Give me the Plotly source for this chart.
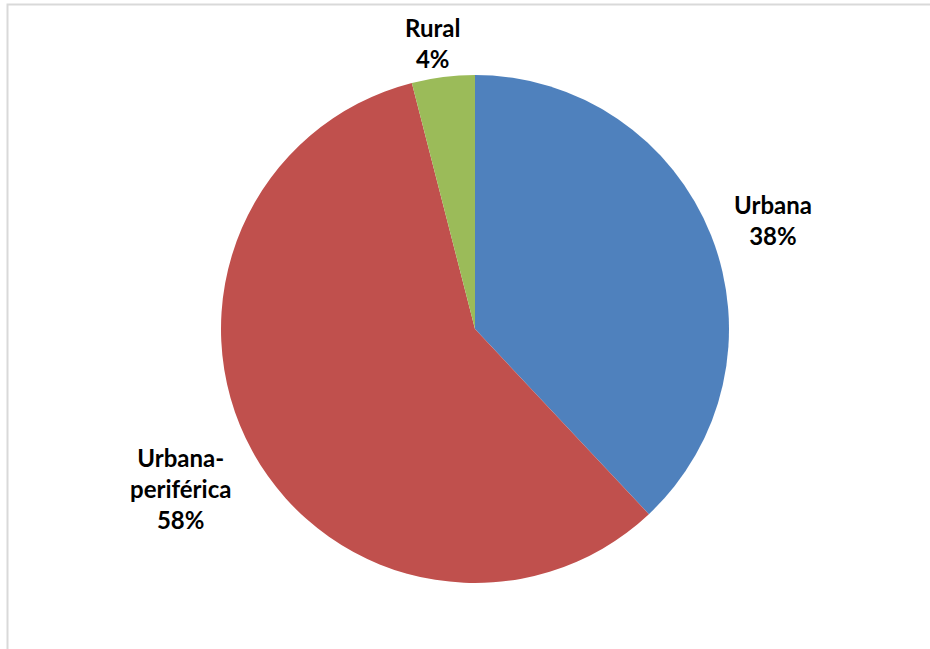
import plotly.graph_objects as go

categories = ["Urbana", "Urbana-periférica", "Rural"]
values = [38, 58, 4]
colors = ["#4F81BD", "#C0504D", "#9BBB59"]
label_text = ["<b>Urbana<br>38%</b>", "<b>Urbana-<br>periférica<br>58%</b>", "<b>Rural<br>4%</b>"]
label_pos = [(773, 220), (180, 488), (432, 43)]

W, H = 930, 649
fig = go.Figure(go.Pie(
    labels=categories, values=values, sort=False, direction="clockwise", rotation=0,
    marker=dict(colors=colors, line=dict(width=0)),
    textinfo="none", hoverinfo="label+percent", showlegend=False,
    domain=dict(x=[221 / W, 729 / W], y=[1 - 583 / H, 1 - 75 / H]),
))

for t, (x, y) in zip(label_text, label_pos):
    fig.add_annotation(x=x / W, y=1 - y / H, xref="paper", yref="paper", text=t,
                       showarrow=False, xanchor="center", yanchor="middle",
                       font=dict(family="Lato", size=24, color="#000000"))

fig.add_shape(type="rect", xref="paper", yref="paper",
              x0=7.5 / W, x1=1.05, y0=-0.05, y1=1 - 4.5 / H,
              line=dict(color="#D9D9D9", width=2), fillcolor="rgba(0,0,0,0)")

fig.update_layout(width=W, height=H, margin=dict(l=0, r=0, t=0, b=0),
                  paper_bgcolor="white", plot_bgcolor="white")
fig.write_html("out.html", config={"displayModeBar": False},
               post_script="document.body.style.margin='0';document.body.style.overflow='hidden';")
